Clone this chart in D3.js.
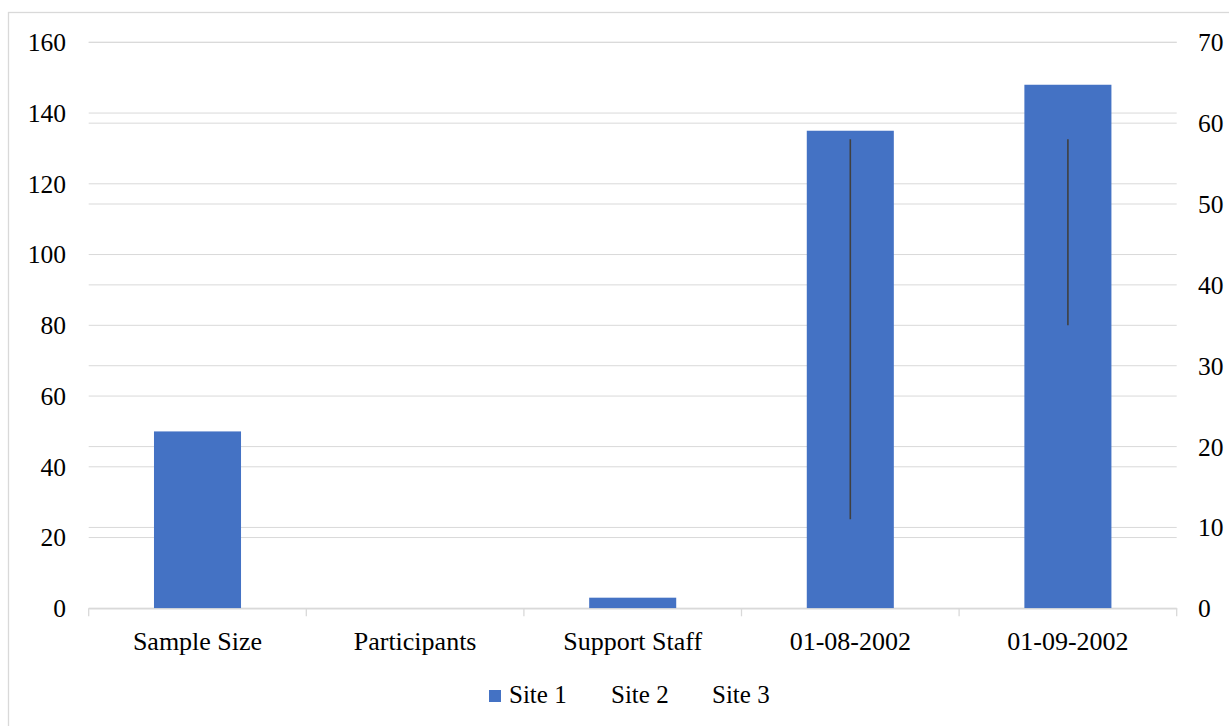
<!DOCTYPE html>
<meta charset="utf-8">
<title>Site comparison</title>
<style>
body { margin: 0; background: #fff; }
.grid line { stroke: #d9d9d9; stroke-width: 1px; }
</style>
<script src="https://d3js.org/d3.v7.min.js"></script>
<body>
<script>
var width = 1229;
var height = 726;
var serif = "'Liberation Serif', 'Times New Roman', Times, 'DejaVu Serif', serif";

// chart data
var categories = ["Sample Size", "Participants", "Support Staff", "01-08-2002", "01-09-2002"];
var site1 = [50, 0, 3, 135, 148];          // bars, left axis
var site2 = [null, null, null, 58, 58];    // secondary axis, shown only via high-low lines
var site3 = [null, null, null, 11, 35];
var seriesNames = ["Site 1", "Site 2", "Site 3"];
var leftTicks = [0, 20, 40, 60, 80, 100, 120, 140, 160];
var rightTicks = [0, 10, 20, 30, 40, 50, 60, 70];

var margin = {top: 42.3, right: 52.3, bottom: 117.7, left: 88.7};

var svg = d3.select("body").append("svg")
    .attr("width", width)
    .attr("height", height)
    .style("font-family", serif);

// outer chart border (runs off the right / bottom edge)
svg.append("rect")
    .attr("x", 8.5).attr("y", 12.5)
    .attr("width", 1240).attr("height", 740)
    .attr("fill", "none")
    .attr("stroke", "#d9d9d9")
    .attr("stroke-width", 1.3);

var x = d3.scaleBand()
    .domain(categories)
    .range([margin.left, width - margin.right])
    .padding(0);

var y = d3.scaleLinear()
    .domain([0, 160])
    .range([height - margin.bottom, margin.top]);

var y2 = d3.scaleLinear()
    .domain([0, 70])
    .range([height - margin.bottom, margin.top]);

// gridlines for both axes
var grid = svg.append("g").attr("class", "grid");
grid.selectAll(".gl")
    .data(leftTicks)
  .enter().append("line")
    .attr("x1", margin.left).attr("x2", width - margin.right)
    .attr("y1", function(d) { return y(d); })
    .attr("y2", function(d) { return y(d); });
grid.selectAll(".gr")
    .data(rightTicks)
  .enter().append("line")
    .attr("x1", margin.left).attr("x2", width - margin.right)
    .attr("y1", function(d) { return y2(d); })
    .attr("y2", function(d) { return y2(d); });

// Site 1 bars
var barW = x.bandwidth() * 0.4;
svg.append("g").selectAll("rect")
    .data(site1)
  .enter().append("rect")
    .attr("x", function(d, i) { return x(categories[i]) + (x.bandwidth() - barW) / 2; })
    .attr("y", function(d) { return y(d); })
    .attr("width", barW)
    .attr("height", function(d) { return y(0) - y(d); })
    .attr("fill", "#4472c4");

// high-low lines between Site 2 and Site 3
svg.append("g").selectAll("line")
    .data(categories.filter(function(c, i) { return site2[i] != null && site3[i] != null; }))
  .enter().append("line")
    .attr("x1", function(c) { return x(c) + x.bandwidth() / 2; })
    .attr("x2", function(c) { return x(c) + x.bandwidth() / 2; })
    .attr("y1", function(c) { return y2(site2[categories.indexOf(c)]); })
    .attr("y2", function(c) { return y2(site3[categories.indexOf(c)]); })
    .attr("stroke", "#404040")
    .attr("stroke-width", 1.6);

// category axis
var xAxis = svg.append("g")
    .attr("transform", "translate(0," + y(0) + ")")
    .call(d3.axisBottom(x).tickSize(0).tickPadding(23));
xAxis.attr("font-family", serif);
xAxis.select(".domain").attr("stroke", "#d9d9d9").attr("stroke-width", 1.3);
xAxis.selectAll("text").attr("font-size", "26px").attr("fill", "#000");
xAxis.selectAll(".sep")
    .data(d3.range(categories.length + 1))
  .enter().append("line")
    .attr("x1", function(i) { return margin.left + i * x.step(); })
    .attr("x2", function(i) { return margin.left + i * x.step(); })
    .attr("y1", 0).attr("y2", 8)
    .attr("stroke", "#d9d9d9").attr("stroke-width", 1.3);

// left value axis
var yAxis = svg.append("g")
    .attr("transform", "translate(66,0)")
    .call(d3.axisLeft(y).tickValues(leftTicks).tickSize(0).tickPadding(0));
yAxis.attr("font-family", serif);
yAxis.select(".domain").remove();
yAxis.selectAll("text").attr("font-size", "25.5px").attr("fill", "#000").attr("dy", "0.33em");

// right value axis
var y2Axis = svg.append("g")
    .attr("transform", "translate(1198,0)")
    .call(d3.axisRight(y2).tickValues(rightTicks).tickSize(0).tickPadding(0));
y2Axis.attr("font-family", serif);
y2Axis.select(".domain").remove();
y2Axis.selectAll("text").attr("font-size", "25.5px").attr("fill", "#000").attr("dy", "0.33em");

// legend
var legendX = [489, 611, 712];
var legend = svg.append("g").attr("font-family", serif);
var item = legend.selectAll("g")
    .data(seriesNames)
  .enter().append("g")
    .attr("transform", function(d, i) { return "translate(" + legendX[i] + ",690)"; });
item.filter(function(d, i) { return i === 0; })
  .append("rect")
    .attr("width", 12).attr("height", 12)
    .attr("fill", "#4472c4");
item.append("text")
    .attr("x", function(d, i) { return i === 0 ? 20 : 0; })
    .attr("y", 12.7)
    .attr("font-size", "25px")
    .text(function(d) { return d; });
</script>
